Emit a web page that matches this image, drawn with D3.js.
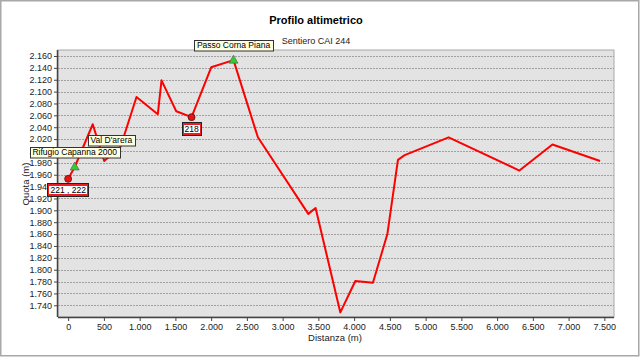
<!DOCTYPE html>
<html><head><meta charset="utf-8">
<script src="https://cdn.jsdelivr.net/npm/d3@7"></script>
<style>
html,body{margin:0;padding:0;background:#fff;}
svg{display:block;font-family:"Liberation Sans",Arial,sans-serif;}
</style></head>
<body>
<svg id="chart" width="640" height="357"></svg>
<script>
// ---- data ----
const distances = [0, 92, 344, 504, 733, 956, 1254, 1306, 1512, 1726, 2001, 2313, 2654, 3359, 3461, 3807, 4017, 4263, 4465, 4613, 4707, 5322, 6312, 6774, 7440];
const elevations = [1953, 1973, 2045, 1983, 2007, 2091, 2062, 2119, 2067, 2057, 2141, 2153, 2023, 1894, 1904, 1728, 1781, 1778, 1860, 1985, 1993, 2023, 1967, 2011, 1983];
const xTicks = [0, 500, 1000, 1500, 2000, 2500, 3000, 3500, 4000, 4500, 5000, 5500, 6000, 6500, 7000, 7500];
const yTicks = [1740, 1760, 1780, 1800, 1820, 1840, 1860, 1880, 1900, 1920, 1940, 1960, 1980, 2000, 2020, 2040, 2060, 2080, 2100, 2120, 2140, 2160];
// trail junction signs (red circles)
const signNames = ["221 , 222", "218"];
const signDist = [0, 1726];
const signElev = [1953, 2057];
// named waypoints (green triangles / labels)
const wpNames = ["Rifugio Capanna 2000", "Val D'arera", "Passo Corna Piana"];
const wpDist = [92, 605, 2313];
const wpElev = [1973, 1993, 2153];
const wpMarker = [true, false, true];
const title = "Profilo altimetrico";
const subtitle = "Sentiero CAI 244";
const xLabel = "Distanza (m)";
const yLabel = "Quota (m)";

// ---- layout ----
const svg = d3.select("#chart");
const L = 58, R = 614, T = 50, B = 317;
const x = d3.scaleLinear().domain([-142, 7635]).range([L, R]);
const y = d3.scaleLinear().domain([1720.3, 2170.1]).range([B, T]);
const fmt = d3.formatLocale({decimal: ",", thousands: ".", grouping: [3]}).format(",d");

// outer frame
svg.append("rect").attr("x", 0.75).attr("y", 0.75).attr("width", 638).attr("height", 355)
  .attr("fill", "#fff").attr("stroke", "#a8a8a8").attr("stroke-width", 1.5);

// titles
svg.append("text").attr("x", 316).attr("y", 24).attr("text-anchor", "middle")
  .attr("font-size", 11).attr("font-weight", "bold").attr("fill", "#000").text(title);
svg.append("text").attr("x", 316).attr("y", 44).attr("text-anchor", "middle")
  .attr("font-size", 9).attr("fill", "#222").text(subtitle);

// plot background
svg.append("rect").attr("x", L).attr("y", T).attr("width", R - L).attr("height", B - T)
  .attr("fill", "#e3e3e3").attr("stroke", "#a8a8a8").attr("stroke-width", 1);

// grid
svg.append("g").selectAll("line").data(yTicks).join("line")
  .attr("x1", L).attr("x2", R)
  .attr("y1", d => Math.round(y(d)) + 0.5).attr("y2", d => Math.round(y(d)) + 0.5)
  .attr("stroke", "#a0a0a0").attr("stroke-width", 1).attr("stroke-dasharray", "2,1");

// axes
const yAxis = d3.axisLeft(y).tickValues(yTicks).tickFormat(fmt).tickSize(4).tickPadding(2);
const gy = svg.append("g").attr("transform", `translate(${L},0)`).call(yAxis);
const xAxis = d3.axisBottom(x).tickValues(xTicks).tickFormat(fmt).tickSize(4).tickPadding(3);
const gx = svg.append("g").attr("transform", `translate(0,${B})`).call(xAxis);
[gx, gy].forEach(g => {
  g.select(".domain").attr("stroke", "#444").attr("stroke-width", 1.5);
  g.selectAll(".tick line").attr("stroke", "#444");
  g.selectAll(".tick text").attr("font-size", 9).attr("fill", "#222")
    .attr("font-family", "'Liberation Sans',Arial,sans-serif");
});
gx.select(".domain").attr("d", `M${L},0.5H${R}`);
gy.select(".domain").attr("d", `M-0.5,${T}V${B}`);

// axis titles
svg.append("text").attr("x", 335).attr("y", 341).attr("text-anchor", "middle")
  .attr("font-size", 9.5).attr("fill", "#222").text(xLabel);
svg.append("text").attr("transform", "translate(29,184) rotate(-90)").attr("text-anchor", "middle")
  .attr("font-size", 9.5).attr("fill", "#222").text(yLabel);

// profile line
const pts = distances.map((d, i) => [d, elevations[i]]);
svg.append("path").datum(pts)
  .attr("d", d3.line().x(d => x(d[0])).y(d => y(d[1])))
  .attr("fill", "none").attr("stroke", "#ff0000").attr("stroke-width", 2).attr("stroke-linejoin", "round");

// waypoint markers (green triangles)
wpNames.forEach((n, i) => {
  if (!wpMarker[i]) return;
  const cx = x(wpDist[i]), cy = y(wpElev[i]);
  svg.append("path").attr("d", `M${cx},${cy - 5}L${cx + 4.5},${cy + 3}L${cx - 4.5},${cy + 3}Z`)
    .attr("fill", "#33cc33").attr("stroke", "#555").attr("stroke-width", 0.6);
});
// sign markers (red circles)
signNames.forEach((n, i) => {
  svg.append("circle").attr("cx", x(signDist[i])).attr("cy", y(signElev[i])).attr("r", 3.5)
    .attr("fill", "#ee1111").attr("stroke", "#551111").attr("stroke-width", 0.8);
});

// waypoint labels (tooltip boxes)
wpNames.forEach((n, i) => {
  const cx = x(wpDist[i]), cy = y(wpElev[i]);
  const g = svg.append("g");
  const t = g.append("text").attr("x", cx).attr("y", cy - 12).attr("text-anchor", "middle")
    .attr("font-size", 8.5).attr("fill", "#000").text(n);
  const bb = t.node().getBBox();
  g.insert("rect", "text").attr("x", Math.round(bb.x - 2.5) + 0.5).attr("y", Math.round(cy - 20) + 0.5)
    .attr("width", Math.round(bb.width + 5)).attr("height", 10.5)
    .attr("fill", "#ffffe1").attr("stroke", "#333").attr("stroke-width", 1);
});

// sign labels (red-white-red)
signNames.forEach((n, i) => {
  const cx = x(signDist[i]), cy = y(signElev[i]);
  const g = svg.append("g");
  const t = g.append("text").attr("x", cx).attr("y", cy + 14.5).attr("text-anchor", "middle")
    .attr("font-size", 8.5).attr("fill", "#000").text(n);
  const bb = t.node().getBBox();
  const w = Math.round(bb.width + 6), bx = Math.round(cx - w / 2), by = Math.round(cy + 4.5);
  g.insert("rect", "text").attr("x", bx).attr("y", by).attr("width", w).attr("height", 14).attr("fill", "#ee1c25");
  g.insert("rect", "text").attr("x", bx + 2).attr("y", by + 3).attr("width", w - 4).attr("height", 8).attr("fill", "#fff");
  g.append("rect").attr("x", bx + 0.5).attr("y", by + 0.5).attr("width", w - 1).attr("height", 13)
    .attr("fill", "none").attr("stroke", "#222").attr("stroke-width", 1);
});
</script>
</body></html>
